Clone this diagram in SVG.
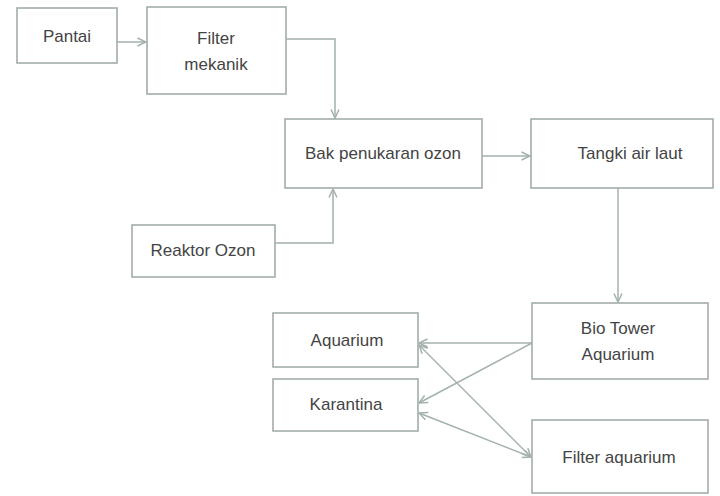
<svg xmlns="http://www.w3.org/2000/svg" width="720" height="496" viewBox="0 0 720 496">
<defs>
<style>
.box{fill:#ffffff;stroke:#a3adab;stroke-width:1.6}
.t{font-family:"Liberation Sans",Arial,sans-serif;font-size:17px;fill:#444444;text-anchor:middle}
.c{fill:none;stroke:#a3b1af;stroke-width:1.5}
</style>
<marker id="ah" viewBox="0 0 10 10" refX="9.5" refY="5" markerWidth="10" markerHeight="10" markerUnits="userSpaceOnUse" orient="auto-start-reverse">
<path d="M1,1 L9.5,5 L1,9" fill="none" stroke="#a3b1af" stroke-width="1.5"/>
</marker>
</defs>
<rect width="720" height="496" fill="#ffffff"/>
<g id="connectors">
<path class="c" d="M117,42 H146" marker-end="url(#ah)"/>
<path class="c" d="M286,39 H335 V118" marker-end="url(#ah)"/>
<path class="c" d="M275,243 H333 V189" marker-end="url(#ah)"/>
<path class="c" d="M482,156 H530" marker-end="url(#ah)"/>
<path class="c" d="M618,188 V302" marker-end="url(#ah)"/>
<path class="c" d="M532,343 L419,343" marker-end="url(#ah)"/>
<path class="c" d="M532,343 L419,403" marker-end="url(#ah)"/>
<path class="c" d="M419,345 L531,457" marker-start="url(#ah)" marker-end="url(#ah)"/>
<path class="c" d="M419,413 L531,457" marker-start="url(#ah)" marker-end="url(#ah)"/>
</g>
<g id="pantai"><rect class="box" x="17" y="8" width="100" height="55"/><text class="t" x="67" y="42">Pantai</text></g>
<g id="filter-mekanik"><rect class="box" x="147" y="7" width="139" height="87"/><text class="t" x="216" y="44">Filter</text><text class="t" x="216" y="70">mekanik</text></g>
<g id="bak-penukaran-ozon"><rect class="box" x="285" y="119" width="197" height="69"/><text class="t" x="383" y="159">Bak penukaran ozon</text></g>
<g id="tangki-air-laut"><rect class="box" x="531" y="119" width="182" height="69"/><text class="t" x="630" y="159">Tangki air laut</text></g>
<g id="reaktor-ozon"><rect class="box" x="132" y="225" width="143" height="52"/><text class="t" x="203" y="256">Reaktor Ozon</text></g>
<g id="aquarium"><rect class="box" x="273" y="313" width="145" height="54"/><text class="t" x="347" y="346">Aquarium</text></g>
<g id="karantina"><rect class="box" x="273" y="379" width="145" height="52"/><text class="t" x="346" y="410">Karantina</text></g>
<g id="bio-tower-aquarium"><rect class="box" x="532" y="303" width="176" height="76"/><text class="t" x="618" y="334">Bio Tower</text><text class="t" x="618" y="360">Aquarium</text></g>
<g id="filter-aquarium"><rect class="box" x="532" y="420" width="176" height="73"/><text class="t" x="619" y="463">Filter aquarium</text></g>
</svg>
